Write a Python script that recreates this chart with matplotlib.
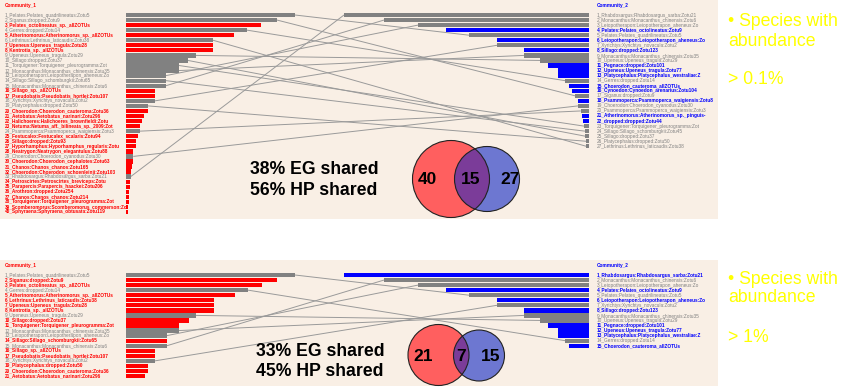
import matplotlib
matplotlib.use('Agg')
import matplotlib.pyplot as plt
from matplotlib.patches import Circle, Rectangle

plt.rcParams['font.family'] = ['Liberation Sans', 'DejaVu Sans']

# ---------------- data ----------------
top_left_labels = [
    "1_Pelates:Pelates_quadrilineatus:Zotu5", "2_Siganus:dropped:Zotu9",
    "3_Pelates_octolineatus_sp._allZOTUs", "4_Gerres:dropped:Zotu14",
    "5_Atherinomorus:Atherinomorus_sp._allZOTUs", "6_Lethrinus:Lethrinus_laticaudis:Zotu38",
    "7_Upeneus:Upeneus_tragula:Zotu28", "8_Kentrotia_sp._allZOTUs",
    "9_Upeneus:Upeneus_tragula:Zotu29", "10_Sillago:dropped:Zotu37",
    "11_Torquigener:Torquigener_pleurogramma:Zot", "12_Monacanthus:Monacanthus_chinensis:Zotu35",
    "13_Leiopotherapon:Leiopotherapon_aheneus:Zo", "14_Sillago:Sillago_schomburgkii:Zotu65",
    "15_Monacanthus:Monacanthus_chinensis:Zotu6", "16_Sillago_sp._allZOTUs",
    "17_Pseudobatis:Pseudobatis_hortlei:Zotu107", "18_Xyrichtys:Xyrichtys_novacula:Zotu2",
    "19_Platycephalus:dropped:Zotu50", "20_Choerodon:Choerodon_cauteroma:Zotu36",
    "21_Aetobatus:Aetobatus_narinari:Zotu296", "22_Halichoeres:Halichoeres_brownfieldi:Zotu",
    "23_Netuma:Netuma_aff._bilineata_sp._2009:Zot", "24_Psammoperca:Psammoperca_waigiensis:Zotu3",
    "25_Festucalex:Festucalex_scalaris:Zotu94", "26_Sillago:dropped:Zotu93",
    "27_Hyporhamphus:Hyporhamphus_regularis:Zotu", "28_Neatrygon:Neatrygon_elegantulus:Zotu88",
    "29_Choerodon:Choerodon_cyanodus:Zotu30", "30_Choerodon:Choerodon_cephalotes:Zotu63",
    "31_Chanos:Chanos_chanos:Zotu165", "32_Choerodon:Choerodon_schoenleinii:Zotu103",
    "33_Rhabdosargus:Rhabdosargus_sarba:Zotu21", "34_Petroscirtes:Petroscirtes_breviceps:Zotu",
    "35_Parapercis:Parapercis_haackei:Zotu206", "36_Arothron:dropped:Zotu254",
    "37_Chanos:Chanos_chanos:Zotu214", "38_Torquigener:Torquigener_pleurogramma:Zot",
    "39_Scomberomorus:Scomberomorus_commerson:Zo", "40_Sphyraena:Sphyraena_obtusata:Zotu119",
]
top_left_values = [169, 151, 135, 121, 108, 87, 87, 87, 70, 62, 53, 53, 40, 40, 40,
                   29, 29, 29, 22, 22, 18, 16, 14, 14, 12, 10, 10, 7.3, 7.3, 7.3,
                   6, 4.7, 4.7, 4, 3.7, 3.3, 3, 2.7, 2.3, 2.3]
top_left_shared = [1, 2, 4, 6, 9, 10, 11, 12, 13, 14, 15, 18, 19, 24, 29, 33]

top_right_labels = [
    "1_Rhabdosargus:Rhabdosargus_sarba:Zotu21", "2_Monacanthus:Monacanthus_chinensis:Zotu6",
    "3_Leiopotherapon:Leiopotherapon_aheneus:Zo", "4_Pelates:Pelates_octolineatus:Zotu9",
    "5_Pelates:Pelates_quadrilineatus:Zotu5", "6_Leiopotherapon:Leiopotherapon_aheneus:Zo",
    "7_Xyrichtys:Xyrichtys_novacula:Zotu2", "8_Sillago:dropped:Zotu123",
    "9_Monacanthus:Monacanthus_chinensis:Zotu35", "10_Upeneus:Upeneus_tragula:Zotu29",
    "11_Pegnace:dropped:Zotu101", "12_Upeneus:Upeneus_tragula:Zotu77",
    "13_Platycephalus:Platycephalus_westraliae:Z", "14_Gerres:dropped:Zotu14",
    "15_Choerodon_cauteroma_allZOTUs", "16_Cynoedon:Cynoedon_arenarius:Zotu104",
    "17_Siganus:dropped:Zotu9", "18_Psammoperca:Psammoperca_waigiensis:Zotu8",
    "19_Choerodon:Choerodon_cyanodus:Zotu30", "20_Psammoperca:Psammoperca_waigiensis:Zotu3",
    "21_Atherinomorus:Atherinomorus_sp._pinguis-", "22_dropped:dropped:Zotu44",
    "23_Torquigener:Torquigener_pleurogramma:Zot", "24_Sillago:Sillago_schomburgkii:Zotu45",
    "25_Sillago:dropped:Zotu37", "26_Platycephalus:dropped:Zotu50",
    "27_Lethrinus:Lethrinus_laticaudis:Zotu38",
]
top_right_values = [245, 205, 171, 143, 120, 92, 92, 65, 65, 49, 41, 31, 31, 24, 20,
                    17, 14, 11, 11, 8.3, 7.3, 5.7, 5, 4, 3.7, 3, 2.7]
top_right_shared = [1, 2, 3, 5, 7, 9, 10, 14, 17, 19, 20, 23, 24, 25, 26, 27]
top_links = [(1, 5), (2, 17), (4, 14), (6, 27), (9, 10), (10, 25), (11, 23), (12, 9),
             (13, 3), (14, 24), (15, 2), (18, 7), (19, 26), (24, 20), (29, 19), (33, 1)]
top_pct = ["38% EG shared", "56% HP shared"]
top_venn = ["40", "15", "27"]
top_note = ["\u2022 Species with", "abundance", "> 0.1%"]

bot_left_labels = top_left_labels[:21]
bot_left_values = [169, 151, 136, 122, 109, 88, 88, 88, 70, 63, 53, 53, 41, 41, 41,
                   29, 29, 29, 22, 22, 19]
bot_left_shared = [1, 4, 9, 12, 13, 15, 18]
bot_right_labels = top_right_labels[:15]
bot_right_values = [245, 205, 171, 143, 120, 92, 92, 65, 65, 49, 41, 31, 31, 24, 20]
bot_right_shared = [2, 3, 5, 7, 9, 10, 14]
bot_links = [(1, 5), (4, 14), (9, 10), (12, 9), (13, 3), (15, 2), (18, 7)]
bot_pct = ["33% EG shared", "45% HP shared"]
bot_venn = ["21", "7", "15"]
bot_note = ["\u2022 Species with", "abundance", "> 1%"]

# ---------------- style ----------------
BEIGE = '#F9EFE5'
GRAY = '#818181'
RED = '#FF0000'
BLUE = '#0000FF'
LINE = '#9A9A9A'
YEL = '#FFFF00'
VRED = '#FF5F5F'
VBLUE = '#6D77D1'
VPURP = '#7B3C99'

fig = plt.figure(figsize=(8.55, 3.91), dpi=100)
ax = fig.add_axes([0, 0, 1, 1])
ax.set_xlim(0, 855)
ax.set_ylim(391, 0)
ax.axis('off')

LX0 = 126      # left bars origin
RX1 = 589      # right bars end
STEP = 5.05
BH = 4.3
LS = 3.4


def panel(py0, py1, row0, ll, lv, lsh, rl, rv, rsh, links, pct, pct_x, pct_y,
          venn, vr, vb, num_y, num_x, note, note_y):
    ax.add_patch(Rectangle((0, py0), 718, py1 - py0, facecolor=BEIGE,
                           edgecolor='none', zorder=0))
    ly = [row0 + i * STEP for i in range(len(lv))]
    ry = [row0 + i * STEP for i in range(len(rv))]
    lcol = [GRAY if (i + 1) in lsh else RED for i in range(len(lv))]
    rcol = [GRAY if (i + 1) in rsh else BLUE for i in range(len(rv))]
    ax.barh(ly, lv, left=LX0, height=BH, color=lcol, zorder=2)
    ax.barh(ry, rv, left=[RX1 - v for v in rv], height=BH, color=rcol, zorder=2)
    for a, b in links:
        ax.plot([LX0 + lv[a - 1], RX1 - rv[b - 1]], [ly[a - 1], ry[b - 1]],
                color=LINE, lw=0.7, zorder=1, solid_capstyle='butt')
    ax.text(5, row0 - 10, "Community_1", color=RED, fontsize=LS, fontweight='bold',
            va='center', ha='left')
    ax.text(597, row0 - 10, "Community_2", color=BLUE, fontsize=LS, fontweight='bold',
            va='center', ha='left')
    for t, y, c in zip(ll, ly, lcol):
        ax.text(5, y, t, color=c, fontsize=LS, va='center', ha='left',
                fontweight='normal' if c == GRAY else 'bold')
    for t, y, c in zip(rl, ry, rcol):
        ax.text(597, y, t, color=c, fontsize=LS, va='center', ha='left',
                fontweight='normal' if c == GRAY else 'bold')
    for t, y in zip(pct, pct_y):
        ax.text(pct_x, y, t, fontsize=12.7, fontweight='bold', color='black',
                va='center', ha='left')
    # Venn
    (rx, ryc, rr), (bx, byc, br) = vr, vb
    c1 = Circle((rx, ryc), rr, facecolor=VRED, edgecolor='none', zorder=3)
    c2 = Circle((bx, byc), br, facecolor=VBLUE, edgecolor='none', zorder=3)
    ax.add_patch(c1)
    ax.add_patch(c2)
    c3 = Circle((rx, ryc), rr, facecolor=VPURP, edgecolor='none', zorder=4)
    ax.add_patch(c3)
    c3.set_clip_path(c2)
    for (cx, cy, r) in (vr, vb):
        ax.add_patch(Circle((cx, cy), r, facecolor='none', edgecolor='#222222',
                            lw=0.8, zorder=5))
    for t, x in zip(venn, num_x):
        ax.text(x, num_y, t, fontsize=12.5, fontweight='bold', color='black',
                va='center', ha='center', zorder=6)
    for t, y in zip(note, note_y):
        ax.text(728, y, t, fontsize=12.7, color=YEL, va='center', ha='left')


panel(0, 219, 15, top_left_labels, top_left_values, top_left_shared,
      top_right_labels, top_right_values, top_right_shared, top_links,
      top_pct, 250, [170, 190.5], top_venn,
      (451, 179, 38.5), (487, 179, 32.5), 180, [427, 471, 510],
      top_note, [22, 41, 80])

panel(260, 386, 275, bot_left_labels, bot_left_values, bot_left_shared,
      bot_right_labels, bot_right_values, bot_right_shared, bot_links,
      bot_pct, 256, [351, 371], bot_venn,
      (438.5, 355, 30.5), (479, 355.5, 25.5), 356.5, [423, 461.5, 491],
      bot_note, [279, 298, 337])

fig.savefig('out.png', dpi=100, facecolor='white')
